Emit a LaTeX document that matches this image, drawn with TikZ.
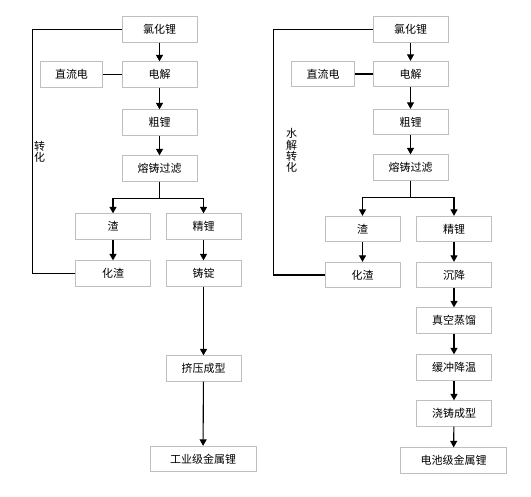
\documentclass[tikz,border=0pt]{standalone}
\usepackage{fontspec}
\newfontfamily\cjk{Noto Sans CJK SC}
\usetikzlibrary{calc, arrows.meta}
\tikzstyle{stepbox} = [rectangle, minimum width=75pt, minimum height=25.5pt, inner sep=0pt, text centered, draw=black!25, line width=0.8pt, text=black, font=\cjk\fontsize{11}{11.3}\selectfont]
\tikzstyle{widebox} = [stepbox, minimum width=106pt]
\tikzstyle{powerbox} = [stepbox, minimum width=62.5pt]
\tikzstyle{arrow}   = [line width=1.1pt, ->, >={Triangle[length=6.5pt,width=7pt]}]
\tikzstyle{line}    = [line width=1.1pt]
\tikzstyle{sidetext} = [inner sep=0pt, align=center, text=black, font=\cjk\fontsize{11}{11.3}\selectfont]

\begin{document}
\begin{tikzpicture}[node distance=46pt]
    \useasboundingbox (0pt,0pt) rectangle (531pt,-497pt);

    % left route
    \node (lcl)  [stepbox] at (159.5pt,-29.5pt) {氯化锂};
    \node (ldj)  [stepbox, below of=lcl, yshift=1pt] {电解};
    \node (lzl)  [powerbox, left of=ldj, xshift=-42pt] {直流电};
    \node (lcu)  [stepbox, below of=ldj, yshift=-2pt] {粗锂};
    \node (lrz)  [stepbox, below of=lcu] {熔铸过滤};
    \node (lzha) [stepbox, below of=lrz, xshift=-46.5pt, yshift=-12pt] {渣};
    \node (ljl)  [stepbox, below of=lrz, xshift=44pt, yshift=-12pt] {精锂};
    \node (lhz)  [stepbox, below of=lzha, yshift=-1pt] {化渣};
    \node (lzd)  [stepbox, below of=ljl, yshift=-1pt] {铸锭};
    \node (ljy)  [stepbox, below of=lzd, yshift=-49pt] {挤压成型};
    \node (lgy)  [widebox, below of=ljy, xshift=-0.5pt, yshift=-44.5pt] {工业级金属锂};

    \draw [arrow] (lcl) -- (ldj);
    \draw [line]  (lzl) -- (ldj);
    \draw [arrow] (ldj) -- (lcu);
    \draw [arrow] (lcu) -- (lrz);
    \draw [arrow] (lrz.south) -- ++(0pt,-16.5pt) -| (lzha.north);
    \draw [arrow] (lrz.south) -- ++(0pt,-16.5pt) -| (ljl.north);
    \draw [arrow] (lzha) -- (lhz);
    \draw [arrow] (ljl) -- (lzd);
    \draw [arrow] (lzd) -- (ljy);
    \draw [arrow] (ljy) -- (lgy);
    \draw [line]  (lhz.west) -- ++(-43pt,0pt) |- (lcl.west)
        node [sidetext, pos=0.25, anchor=west, xshift=1.5pt] {转\\化};

    % right route
    \node (rcl)  [stepbox] at (410.5pt,-29.5pt) {氯化锂};
    \node (rdj)  [stepbox, below of=rcl, yshift=1.5pt] {电解};
    \node (rzl)  [powerbox, left of=rdj, xshift=-41.5pt] {直流电};
    \node (rcu)  [stepbox, below of=rdj, yshift=-2pt] {粗锂};
    \node (rrz)  [stepbox, below of=rcu, yshift=0.5pt] {熔铸过滤};
    \node (rzha) [stepbox, below of=rrz, xshift=-48pt, yshift=-15.5pt] {渣};
    \node (rjl)  [stepbox, below of=rrz, xshift=43.5pt, yshift=-15.5pt] {精锂};
    \node (rhz)  [stepbox, below of=rzha] {化渣};
    \node (rcj)  [stepbox, below of=rjl] {沉降};
    \node (rzk)  [stepbox, below of=rcj, yshift=0.5pt] {真空蒸馏};
    \node (rhc)  [stepbox, below of=rzk, yshift=-1pt] {缓冲降温};
    \node (rjz)  [stepbox, below of=rhc] {浇铸成型};
    \node (rdc)  [widebox, below of=rjz, xshift=-0.5pt, yshift=-1pt] {电池级金属锂};

    \draw [arrow] (rcl) -- (rdj);
    \draw [line]  (rzl) -- (rdj);
    \draw [arrow] (rdj) -- (rcu);
    \draw [arrow] (rcu) -- (rrz);
    \draw [arrow] (rrz.south) -- ++(0pt,-17pt) -| (rzha.north);
    \draw [arrow] (rrz.south) -- ++(0pt,-17pt) -| (rjl.north);
    \draw [arrow] (rzha) -- (rhz);
    \draw [arrow] (rjl) -- (rcj);
    \draw [arrow] (rcj) -- (rzk);
    \draw [arrow] (rzk) -- (rhc);
    \draw [arrow] (rhc) -- (rjz);
    \draw [arrow] (rjz) -- (rdc);
    \draw [line]  (rhz.west) -- ++(-51pt,0pt) |- (rcl.west)
        node [sidetext, pos=0.25, anchor=west, xshift=12pt, yshift=1.5pt] {水\\解\\转\\化};

\end{tikzpicture}
\end{document}
